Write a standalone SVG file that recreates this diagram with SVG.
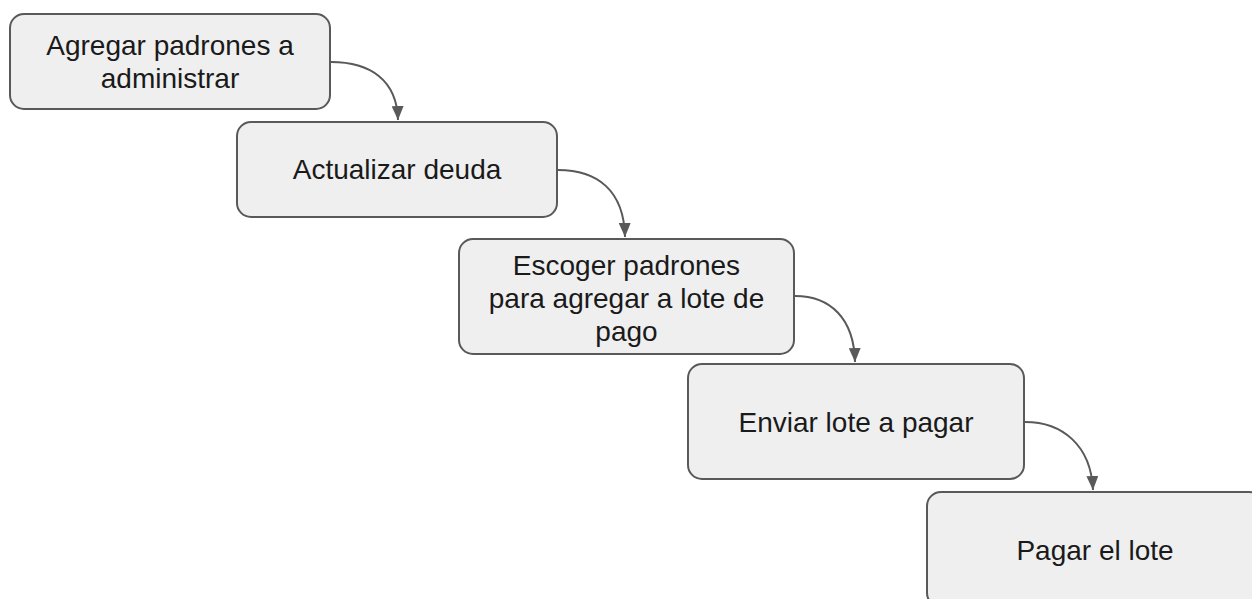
<svg xmlns="http://www.w3.org/2000/svg" width="1252" height="599" viewBox="0 0 1252 599">
<style>
.box{fill:#efefef;stroke:#595959;stroke-width:2}
.lbl{font-family:"Liberation Sans",Arial,sans-serif;font-size:28px;fill:#1a1a1a;text-anchor:middle}
.edge{fill:none;stroke:#595959;stroke-width:2}
</style>
<defs>
<marker id="ah" viewBox="0 0 14 12" refX="14" refY="6" markerWidth="14" markerHeight="12" markerUnits="userSpaceOnUse" orient="auto">
<path d="M0,0 L14,6 L0,12 Z" fill="#595959"/>
</marker>
</defs>
<rect width="1252" height="599" fill="#ffffff"/>
<g id="connectors">
<path class="edge" marker-end="url(#ah)" d="M331,62 C370,62 397,80 398,120"/>
<path class="edge" marker-end="url(#ah)" d="M558,170 C597,170 624,190 625,237"/>
<path class="edge" marker-end="url(#ah)" d="M795,296 C830,296 854,318 855,362"/>
<path class="edge" marker-end="url(#ah)" d="M1025,422 C1062,422 1091,445 1093,490"/>
</g>
<g id="n1">
<rect class="box" x="10" y="14" width="320" height="95" rx="14"/>
<text class="lbl" x="170" y="55">Agregar padrones a</text>
<text class="lbl" x="170" y="88">administrar</text>
</g>
<g id="n2">
<rect class="box" x="237" y="122" width="320" height="95" rx="14"/>
<text class="lbl" x="397" y="179">Actualizar deuda</text>
</g>
<g id="n3">
<rect class="box" x="459" y="239" width="335" height="115" rx="14"/>
<text class="lbl" x="626.5" y="275">Escoger padrones</text>
<text class="lbl" x="626.5" y="308">para agregar a lote de</text>
<text class="lbl" x="626.5" y="341">pago</text>
</g>
<g id="n4">
<rect class="box" x="688" y="364" width="336" height="115" rx="14"/>
<text class="lbl" x="856" y="432">Enviar lote a pagar</text>
</g>
<g id="n5">
<rect class="box" x="927" y="492" width="336" height="115" rx="14"/>
<text class="lbl" x="1095" y="560">Pagar el lote</text>
</g>
</svg>
